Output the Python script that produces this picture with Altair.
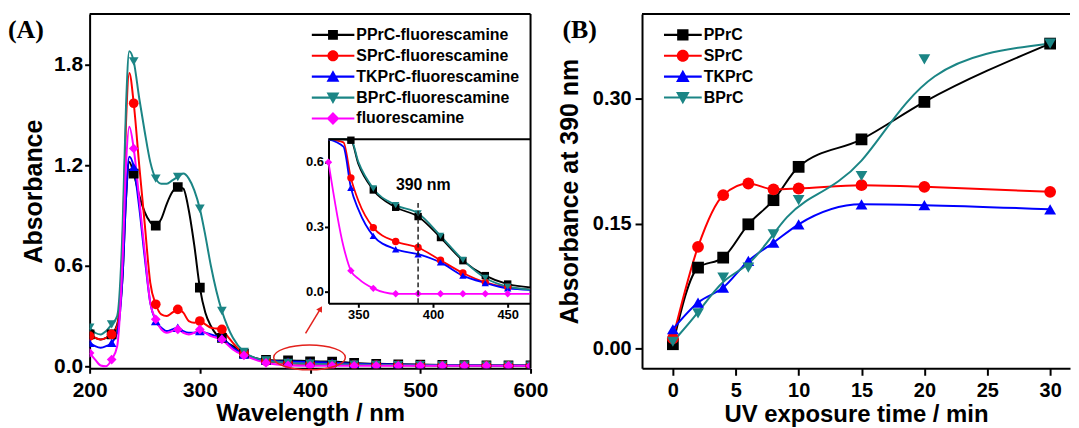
import altair as alt
import pandas as pd

FONT = "Liberation Sans"

# ---------------- Panel A data ----------------
series_a = ["PPrC-fluorescamine", "SPrC-fluorescamine", "TKPrC-fluorescamine",
            "BPrC-fluorescamine", "fluorescamine"]
colors = ["#000000", "#ff0000", "#0000ff", "#1b8585", "#ff00ff"]
marker_shapes = ["square", "circle", "triangle-up", "triangle-down", "diamond"]

wavelength = [200, 205, 210, 215, 220, 225, 230, 233, 236, 240, 245, 250, 255, 260, 265,
              270, 275, 280, 285, 290, 295, 300, 305, 310, 315, 320, 325, 330, 340, 350,
              360, 370, 380, 400, 420, 440, 460, 480, 500, 520, 540, 560, 580, 600]
abs_pprc = [0.19, 0.17, 0.16, 0.17, 0.19, 0.25, 0.55, 1.00, 1.22, 1.15, 1.02, 0.92, 0.86, 0.84, 0.88,
            0.97, 1.04, 1.07, 1.06, 0.93, 0.72, 0.47, 0.32, 0.24, 0.19, 0.17, 0.14, 0.12, 0.075, 0.05,
            0.038, 0.035, 0.035, 0.03, 0.028, 0.02, 0.015, 0.012, 0.01, 0.008, 0.007, 0.006, 0.006, 0.005]
abs_sprc = [0.18, 0.17, 0.16, 0.17, 0.19, 0.24, 0.75, 1.45, 1.75, 1.57, 1.20, 0.85, 0.50, 0.37, 0.31,
            0.30, 0.32, 0.34, 0.32, 0.27, 0.26, 0.27, 0.25, 0.23, 0.225, 0.22, 0.18, 0.14, 0.075, 0.045,
            0.03, 0.022, 0.018, 0.013, 0.01, 0.008, 0.007, 0.006, 0.005, 0.005, 0.004, 0.004, 0.003, 0.003]
abs_tkprc = [0.14, 0.12, 0.11, 0.12, 0.14, 0.20, 0.55, 1.00, 1.25, 1.19, 0.95, 0.65, 0.38, 0.27, 0.23,
             0.21, 0.22, 0.23, 0.21, 0.20, 0.20, 0.21, 0.20, 0.19, 0.18, 0.17, 0.14, 0.11, 0.07, 0.045,
             0.035, 0.03, 0.028, 0.025, 0.022, 0.015, 0.012, 0.01, 0.008, 0.007, 0.006, 0.005, 0.005, 0.004]
abs_bprc = [0.23, 0.20, 0.19, 0.21, 0.25, 0.30, 0.85, 1.55, 1.88, 1.82, 1.60, 1.40, 1.22, 1.12, 1.09,
            1.09, 1.11, 1.13, 1.15, 1.12, 1.05, 0.94, 0.78, 0.60, 0.45, 0.33, 0.24, 0.17, 0.085, 0.05,
            0.035, 0.025, 0.02, 0.015, 0.012, 0.01, 0.008, 0.007, 0.006, 0.005, 0.005, 0.004, 0.004, 0.004]
abs_fluo = [0.08, 0.04, 0.005, 0.0, 0.04, 0.12, 0.65, 1.20, 1.43, 1.30, 1.00, 0.68, 0.38, 0.28, 0.22,
            0.20, 0.21, 0.22, 0.20, 0.19, 0.20, 0.22, 0.20, 0.18, 0.17, 0.16, 0.13, 0.10, 0.065, 0.04,
            0.02, 0.01, 0.005, 0.003, 0.003, 0.003, 0.003, 0.003, 0.003, 0.003, 0.003, 0.003, 0.003, 0.003]

# inset (390 nm region)
inset_wl = [330, 340, 345, 350, 360, 375, 390, 405, 420, 435, 450, 465]
inset_pprc = [1.25, 0.82, 0.70, 0.59, 0.47, 0.39, 0.347, 0.25, 0.143, 0.074, 0.035, 0.02]
inset_sprc = [1.00, 0.69, 0.526, 0.42, 0.296, 0.232, 0.204, 0.145, 0.086, 0.043, 0.02, 0.01]
inset_tkprc = [0.98, 0.67, 0.48, 0.38, 0.258, 0.196, 0.173, 0.135, 0.074, 0.04, 0.015, 0.008]
inset_bprc = [1.30, 0.85, 0.71, 0.60, 0.477, 0.40, 0.362, 0.258, 0.147, 0.063, 0.023, 0.01]
inset_fluo = [0.598, 0.21, 0.097, 0.06, 0.015, -0.01, -0.01, -0.01, -0.01, -0.01, -0.01, -0.01]
inset_marker_wl = [330, 345, 360, 375, 390, 405, 420, 435, 450]

# annotations in panel A
ellipse_at = {"x": [399.5], "y": [0.053]}
arrow_at = {"x": [395.9], "y": [0.196], "x2": [409.5], "y2": [0.344]}
arrow_tip = {"x": [409.5], "y": [0.344]}
mark390 = {"x": [390], "y": [-0.054], "y2": [0.41]}
label390 = {"x": [393.5], "y": [0.495], "t": ["390 nm"]}

# ---------------- Panel B data ----------------
series_b = ["PPrC", "SPrC", "TKPrC", "BPrC"]
uv_time = [0, 2, 4, 6, 8, 10, 15, 20, 30]
b_pprc = [0.005, 0.097, 0.109, 0.149, 0.178, 0.218, 0.251, 0.296, 0.366]
b_sprc = [0.012, 0.122, 0.184, 0.198, 0.191, 0.192, 0.196, 0.194, 0.188]
b_tkprc = [0.023, 0.055, 0.073, 0.105, 0.127, 0.149, 0.173, 0.172, 0.167]
b_bprc = [0.008, 0.042, 0.085, 0.097, 0.137, 0.178, 0.207, 0.347, 0.366]


def long_frame(x, cols, names):
    rows = []
    for name, vals in zip(names, cols):
        for xv, yv in zip(x, vals):
            rows.append({"x": xv, "y": yv, "series": name})
    return pd.DataFrame(rows)


def legend_paths(line_h, sq, r, tri_h, tri_w, dia):
    line = f"M-1,-{line_h}H1V{line_h}H-1Z"
    return [
        line + f"M-{sq},-{sq}H{sq}V{sq}H-{sq}Z",
        line + f"M-{r},0A{r},{r} 0 1,1 {r},0A{r},{r} 0 1,1 -{r},0Z",
        line + f"M0,-{tri_h}L{tri_w},{tri_h * 0.8}H-{tri_w}Z",
        line + f"M-{tri_w},-{tri_h * 0.8}H{tri_w}L0,{tri_h}Z",
        line + f"M0,-{dia}L{dia},0L0,{dia}L-{dia},0Z",
    ]


W_A, H, W_B = 443, 356, 430
one = pd.DataFrame({"k": [0]})
RED = "#e3211c"

# ---------------- Panel A chart ----------------
xa = alt.Scale(domain=[200, 600], nice=False, zero=False)
ya = alt.Scale(domain=[-0.012, 2.103], nice=False, zero=False)
ax_xa = alt.Axis(values=[200, 300, 400, 500, 600], format="d", title="Wavelength / nm",
                 labelFontSize=21, titleFontSize=24, tickSize=5, labelPadding=6,
                 titleY=52, titleBaseline="alphabetic", orient="bottom")
ax_ya = alt.Axis(values=[0, 0.6, 1.2, 1.8], format=".1f", title="Absorbance",
                 labelFontSize=21, titleFontSize=25, tickSize=5, labelPadding=2,
                 titleX=-56, titleY=H / 2, titleBaseline="middle", orient="left")
X_A = alt.X("x:Q", scale=xa, axis=ax_xa)
Y_A = alt.Y("y:Q", scale=ya, axis=ax_ya)
color_a = alt.Color("series:N", scale=alt.Scale(domain=series_a, range=colors), legend=None)
shape_a = alt.Shape("series:N", scale=alt.Scale(domain=series_a, range=marker_shapes), legend=None)

df_a = long_frame(wavelength, [abs_pprc, abs_sprc, abs_tkprc, abs_bprc, abs_fluo], series_a)
df_a_pts = df_a[df_a["x"] % 20 == 0]

lines_a = alt.Chart(df_a).mark_line(strokeWidth=2, interpolate="monotone", clip=True).encode(
    X_A, Y_A, color_a)
points_a = alt.Chart(df_a_pts).mark_point(filled=True, size=95, opacity=1, clip=True).encode(
    X_A, Y_A, color_a, shape_a)

ellipse_path = "M-1,0A1,0.347 0 1,1 1,0A1,0.347 0 1,1 -1,0Z"
ellipse = alt.Chart(pd.DataFrame(ellipse_at)).mark_point(
    shape=ellipse_path, size=5184, filled=False, color=RED, strokeWidth=1.5, opacity=1
).encode(X_A, Y_A)
arrow = alt.Chart(pd.DataFrame(arrow_at)).mark_rule(color=RED, strokeWidth=1.5).encode(
    X_A, Y_A, x2="x2:Q", y2="y2:Q")
arrow_head = alt.Chart(pd.DataFrame(arrow_tip)).mark_point(
    shape="triangle-up", size=45, filled=True, angle=31, color=RED, opacity=1
).encode(X_A, Y_A)

leg_a = alt.Legend(title=None, orient="none", legendX=223, legendY=10.5, padding=0,
                   symbolSize=1849, clipHeight=21, rowPadding=0, labelFont=FONT,
                   labelFontSize=16, labelFontWeight="bold", labelColor="black",
                   labelOffset=2, labelLimit=300, symbolStrokeWidth=0)
legend_a = alt.Chart(pd.DataFrame({"entry": series_a})).transform_filter("false").mark_point(
    filled=True, opacity=1).encode(
    color=alt.Color("entry:N", scale=alt.Scale(domain=series_a, range=colors), legend=leg_a),
    shape=alt.Shape("entry:N", scale=alt.Scale(domain=series_a,
                                               range=legend_paths(0.05, 0.23, 0.26, 0.3, 0.3, 0.3)),
                    legend=leg_a))

tag_a = alt.Chart(pd.DataFrame({"t": ["(A)"]})).mark_text(
    font="Liberation Serif", fontSize=26, fontWeight="bold", align="left", baseline="middle"
).encode(text="t:N", x=alt.value(-82), y=alt.value(16))
frame_top_a = alt.Chart(one).mark_rule(color="black", strokeWidth=2).encode(
    x=alt.value(0), x2=alt.value(W_A), y=alt.value(0))
frame_right_a = alt.Chart(one).mark_rule(color="black", strokeWidth=2).encode(
    x=alt.value(W_A), y=alt.value(0), y2=alt.value(H))

main_a = alt.layer(lines_a, points_a, ellipse, arrow, arrow_head, legend_a, tag_a,
                   frame_top_a, frame_right_a).resolve_scale(color="independent", shape="independent")

# inset
IN_L, IN_R, IN_T, IN_B = 240, W_A, 126, 290.7
xi = alt.Scale(domain=[330, 465.3], range=[IN_L, IN_R], nice=False, zero=False)
yi = alt.Scale(domain=[-0.054, 0.704], range=[IN_B, IN_T], nice=False, zero=False, clamp=True)
ax_xi = alt.Axis(values=[350, 400, 450], format="d", title=None, labelFontSize=13, tickSize=4,
                 labelPadding=1, orient="bottom", offset=-(H - IN_B))
ax_yi = alt.Axis(values=[0, 0.3, 0.6], format=".1f", title=None, labelFontSize=13, tickSize=4,
                 labelPadding=1, orient="left", offset=-IN_L)
X_I = alt.X("xi:Q", scale=xi, axis=ax_xi)
Y_I = alt.Y("yi:Q", scale=yi, axis=ax_yi)

df_i = long_frame(inset_wl, [inset_pprc, inset_sprc, inset_tkprc, inset_bprc, inset_fluo],
                  series_a).rename(columns={"x": "xi", "y": "yi"})
df_i_pts = df_i[df_i["xi"].isin(inset_marker_wl) & (df_i["yi"] <= 0.70)]
lines_i = alt.Chart(df_i).mark_line(strokeWidth=1.8, interpolate="monotone").encode(X_I, Y_I, color_a)
points_i = alt.Chart(df_i_pts).mark_point(filled=True, size=55, opacity=1).encode(
    X_I, Y_I, color_a, shape_a)
dash_i = alt.Chart(pd.DataFrame(mark390).rename(columns={"x": "xi", "y": "yi"})).mark_rule(
    color="#222222", strokeWidth=1.5, strokeDash=[5, 3]).encode(X_I, Y_I, y2="y2:Q")
text_i = alt.Chart(pd.DataFrame(label390).rename(columns={"x": "xi", "y": "yi"})).mark_text(
    font=FONT, fontSize=16, fontWeight="bold", align="center", baseline="middle", color="black"
).encode(X_I, Y_I, text="t:N")
frame_top_i = alt.Chart(one).mark_rule(color="black", strokeWidth=2).encode(
    x=alt.value(IN_L), x2=alt.value(IN_R), y=alt.value(IN_T))

inset = alt.layer(lines_i, points_i, dash_i, text_i, frame_top_i).resolve_scale(
    color="independent", shape="independent")

panel_a = alt.layer(main_a, inset).resolve_scale(
    x="independent", y="independent", color="independent", shape="independent"
).resolve_axis(x="independent", y="independent").properties(width=W_A, height=H)

# ---------------- Panel B chart ----------------
xb = alt.Scale(domain=[-2.454, 31.58], nice=False, zero=False)
yb = alt.Scale(domain=[-0.0239, 0.4016], nice=False, zero=False)
ax_xb = alt.Axis(values=[0, 5, 10, 15, 20, 25, 30], format="d", title="UV exposure time / min",
                 labelFontSize=20, titleFontSize=24, tickSize=7, labelPadding=5,
                 titleY=53, titleBaseline="alphabetic")
ax_yb = alt.Axis(values=[0, 0.15, 0.30], format=".2f", title="Absorbance at 390 nm",
                 labelFontSize=20, titleFontSize=25, tickSize=7, labelPadding=4,
                 titleX=-72.5, titleY=H / 2, titleBaseline="middle")
X_B = alt.X("x:Q", scale=xb, axis=ax_xb)
Y_B = alt.Y("y:Q", scale=yb, axis=ax_yb)
color_b = alt.Color("series:N", scale=alt.Scale(domain=series_b, range=colors[:4]), legend=None)
shape_b = alt.Shape("series:N", scale=alt.Scale(domain=series_b, range=marker_shapes[:4]), legend=None)

df_b = long_frame(uv_time, [b_pprc, b_sprc, b_tkprc, b_bprc], series_b)
lines_b = alt.Chart(df_b[df_b["series"] != "BPrC"]).mark_line(
    strokeWidth=2, interpolate="monotone").encode(X_B, Y_B, color_b)
line_bprc = alt.Chart(df_b[df_b["series"] == "BPrC"]).mark_line(
    strokeWidth=2, interpolate="basis").encode(X_B, Y_B, color_b)
points_b = alt.Chart(df_b).mark_point(filled=True, size=140, opacity=1).encode(
    X_B, Y_B, color_b, shape_b)

leg_b = alt.Legend(title=None, orient="none", legendX=22, legendY=10.5, padding=0,
                   symbolSize=1444, clipHeight=21, rowPadding=0, labelFont=FONT,
                   labelFontSize=16, labelFontWeight="bold", labelColor="black",
                   labelOffset=2, labelLimit=300, symbolStrokeWidth=0)
legend_b = alt.Chart(pd.DataFrame({"entry": series_b})).transform_filter("false").mark_point(
    filled=True, opacity=1).encode(
    color=alt.Color("entry:N", scale=alt.Scale(domain=series_b, range=colors[:4]), legend=leg_b),
    shape=alt.Shape("entry:N", scale=alt.Scale(domain=series_b,
                                               range=legend_paths(0.055, 0.3, 0.32, 0.36, 0.36, 0.34)[:4]),
                    legend=leg_b))
tag_b = alt.Chart(pd.DataFrame({"t": ["(B)"]})).mark_text(
    font="Liberation Serif", fontSize=26, fontWeight="bold", align="left", baseline="middle"
).encode(text="t:N", x=alt.value(-80), y=alt.value(16))
frame_top_b = alt.Chart(one).mark_rule(color="black", strokeWidth=2).encode(
    x=alt.value(0), x2=alt.value(W_B), y=alt.value(0))

panel_b = alt.layer(lines_b, line_bprc, points_b, legend_b, tag_b, frame_top_b).resolve_scale(
    color="independent", shape="independent").properties(width=W_B, height=H)

chart = alt.hconcat(panel_a, panel_b, spacing=112, bounds="flush").properties(
    padding={"left": 0, "top": 4, "right": 0, "bottom": 0}
).configure_view(stroke=None).configure_axis(
    grid=False, labelFont=FONT, labelFontWeight="bold", labelColor="black",
    titleFont=FONT, titleFontWeight="bold", titleColor="black",
    domainColor="black", domainWidth=2, tickColor="black", tickWidth=2,
    labelFlush=False
)

chart.save("out.html", embed_options={"renderer": "svg", "actions": False})
